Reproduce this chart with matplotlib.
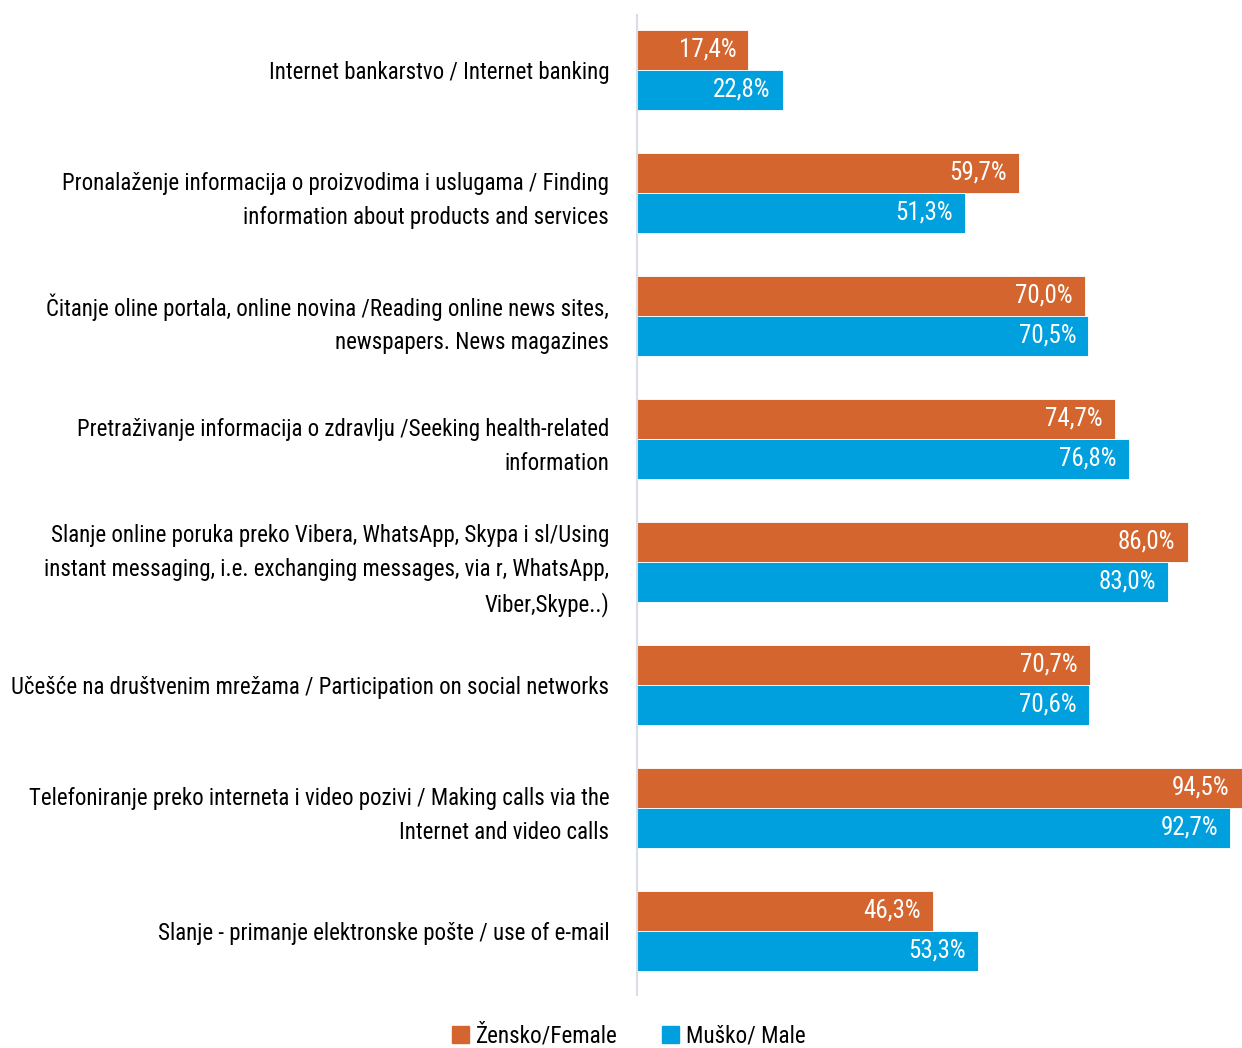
import matplotlib
matplotlib.use("Agg")
import matplotlib.pyplot as plt
from matplotlib.patches import Patch
from matplotlib import font_manager
import os

categories = [
    "Internet bankarstvo / Internet banking",
    "Pronalaženje informacija o proizvodima i uslugama / Finding\ninformation about products and services",
    "Čitanje oline portala, online novina /Reading online news sites,\nnewspapers. News magazines",
    "Pretraživanje informacija o zdravlju /Seeking health-related\ninformation",
    "Slanje online poruka preko Vibera, WhatsApp, Skypa i sl/Using\ninstant messaging, i.e. exchanging messages, via r, WhatsApp,\nViber,Skype..)",
    "Učešće na društvenim mrežama / Participation on social networks",
    "Telefoniranje preko interneta i video pozivi / Making calls via the\nInternet and video calls",
    "Slanje - primanje elektronske pošte / use of e-mail",
]
female = [17.4, 59.7, 70.0, 74.7, 86.0, 70.7, 94.5, 46.3]
male = [22.8, 51.3, 70.5, 76.8, 83.0, 70.6, 92.7, 53.3]
series_names = ["Žensko/Female", "Muško/ Male"]

# pick a condensed font
fp_path = None
preferred = "/usr/share/fonts/truetype/google-fonts/RobotoCondensed[wght].ttf"
if os.path.exists(preferred):
    fp_path = preferred
else:
    for f in font_manager.fontManager.ttflist:
        low = f.fname.lower()
        if ("condensed" in low or "narrow" in low) and "italic" not in low and "bold" not in low and "mono" not in low:
            fp_path = f.fname
            break
if fp_path:
    FP = lambda size: font_manager.FontProperties(fname=fp_path, size=size)
else:
    FP = lambda size: font_manager.FontProperties(family="DejaVu Sans", size=size * 0.8)

c_f = "#D5652F"
c_m = "#00A0DF"

fig = plt.figure(figsize=(12.42, 10.48), dpi=100)
ax = fig.add_axes([637 / 1242, 53 / 1048, 1 - 637 / 1242, 980 / 1048])

h = 40 / 123
ys = list(range(len(categories)))
ax.barh([y - h / 2 for y in ys], female, height=h, color=c_f, edgecolor="white", linewidth=0.6)
ax.barh([y + h / 2 for y in ys], male, height=h, color=c_m, edgecolor="white", linewidth=0.6)

LS = 18
for y, v in zip(ys, female):
    ax.text(v - 1.9, y - h / 2, f"{v:.1f}%".replace(".", ","), color="white",
            ha="right", va="center", fontproperties=FP(LS))
for y, v in zip(ys, male):
    ax.text(v - 1.9, y + h / 2, f"{v:.1f}%".replace(".", ","), color="white",
            ha="right", va="center", fontproperties=FP(LS))

ax.set_xlim(0, 94.5)
ax.set_ylim(7 + 64 / 123, -55 / 123)
ax.set_yticks(ys)
ax.set_yticklabels(categories, linespacing=1.58)
for t in ax.get_yticklabels():
    t.set_fontproperties(FP(16.5))
ax.tick_params(axis="y", length=0, pad=20)
ax.set_xticks([])
for s in ["top", "right", "bottom"]:
    ax.spines[s].set_visible(False)
ax.spines["left"].set_color("#D9DEE6")
ax.spines["left"].set_linewidth(1.5)

handles = [Patch(color=c_f), Patch(color=c_m)]
fig.legend(handles, series_names, loc="center", bbox_to_anchor=(629 / 1242, 12 / 1048),
           ncol=2, frameon=False, prop=FP(16.7), handlelength=0.75, handleheight=0.75,
           handletextpad=0.3, columnspacing=1.9)

fig.savefig("out.png", dpi=100)
